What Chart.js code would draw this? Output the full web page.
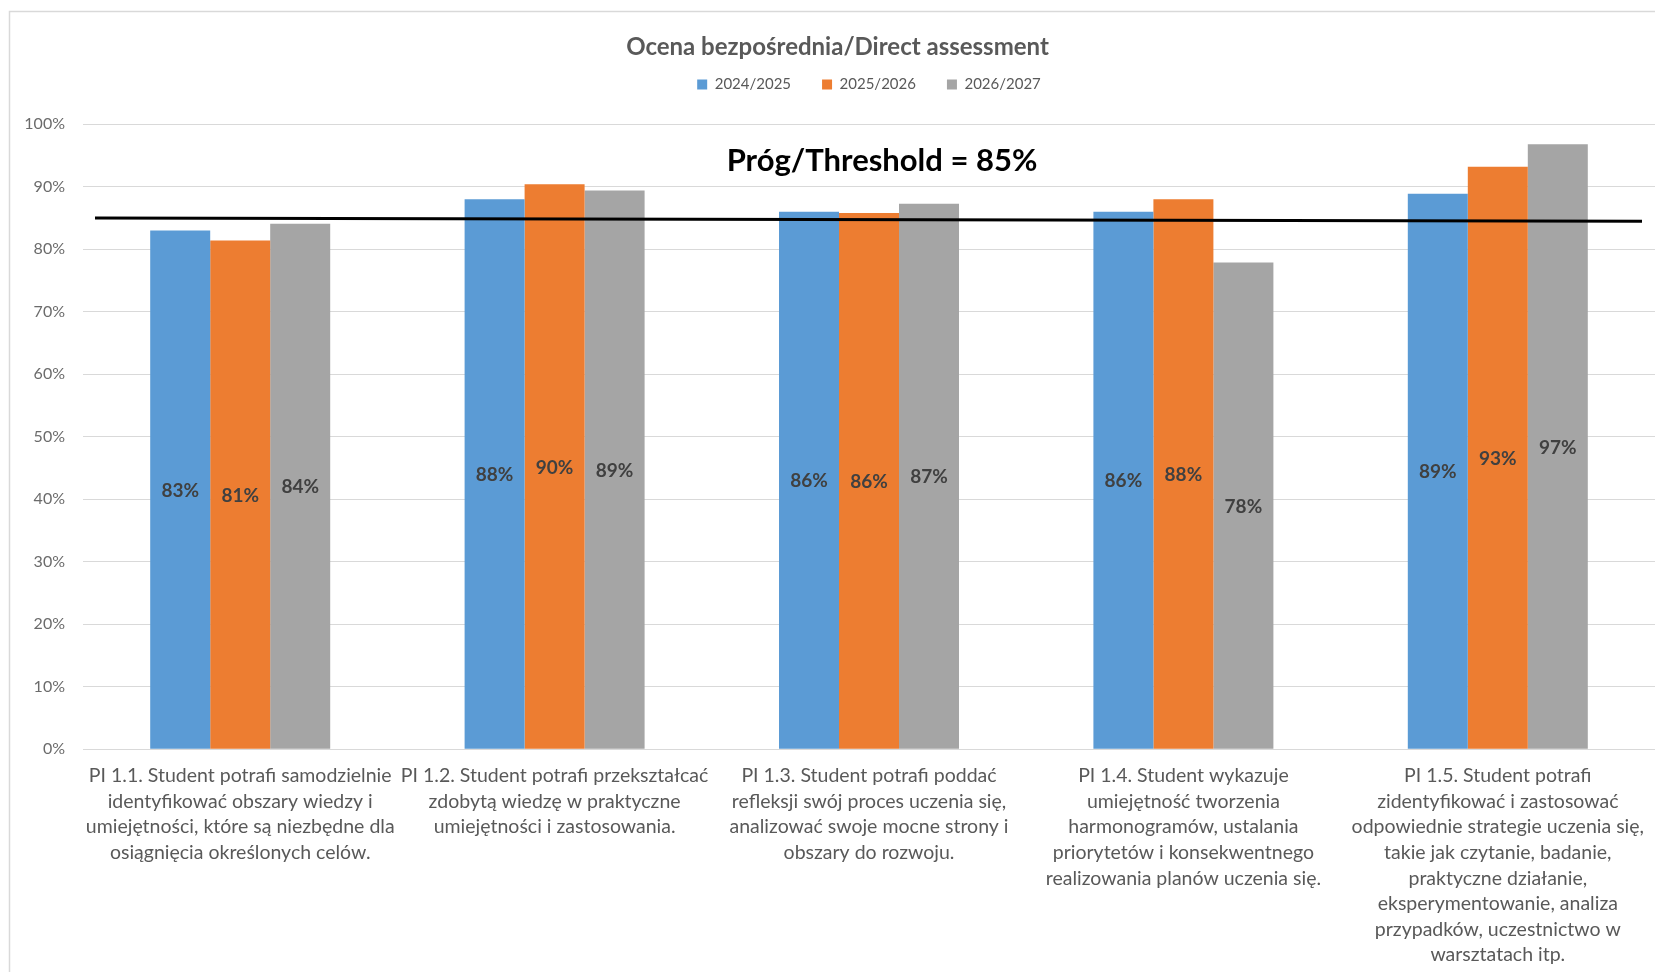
<!DOCTYPE html>
<html>
<head>
<meta charset="utf-8">
<script src="https://cdn.jsdelivr.net/npm/chart.js@4.4.1/dist/chart.umd.min.js"></script>
<style>
html, body { margin: 0; padding: 0; background: #ffffff; }
#wrap { width: 1655px; height: 972px; }
canvas { display: block; }
</style>
</head>
<body>
<div id="wrap"><canvas id="c" width="1655" height="972"></canvas></div>
<script>
const chartTitle = 'Ocena bezpośrednia/Direct assessment';
const categories = [
  ['PI 1.1. Student potrafi samodzielnie', 'identyfikować obszary wiedzy i', 'umiejętności, które są niezbędne dla', 'osiągnięcia określonych celów.'],
  ['PI 1.2. Student potrafi przekształcać', 'zdobytą wiedzę w praktyczne', 'umiejętności i zastosowania.'],
  ['PI 1.3. Student potrafi poddać', 'refleksji swój proces uczenia się,', 'analizować swoje mocne strony i', 'obszary do rozwoju.'],
  ['PI 1.4. Student wykazuje', 'umiejętność tworzenia', 'harmonogramów, ustalania', 'priorytetów i konsekwentnego', 'realizowania planów uczenia się.'],
  ['PI 1.5. Student potrafi', 'zidentyfikować i zastosować', 'odpowiednie strategie uczenia się,', 'takie jak czytanie, badanie,', 'praktyczne działanie,', 'eksperymentowanie, analiza', 'przypadków, uczestnictwo w', 'warsztatach itp.']
];
const seriesNames = ['2024/2025', '2025/2026', '2026/2027'];
const values2024 = [83.0, 88.0, 86.0, 86.0, 88.9];
const values2025 = [81.4, 90.4, 85.8, 88.0, 93.2];
const values2026 = [84.1, 89.4, 87.3, 77.9, 96.8];
const seriesColors = ['#5B9BD5', '#ED7D31', '#A5A5A5'];
const yTickValues = [0, 10, 20, 30, 40, 50, 60, 70, 80, 90, 100];
const thresholdStart = 85;
const thresholdEnd = 84.5;
const thresholdLabel = 'Próg/Threshold = 85%';

const FONT = 'Lato, Carlito, "Open Sans", sans-serif';

const frameAndBg = {
  id: 'frameAndBg',
  beforeDraw(chart) {
    const ctx = chart.ctx;
    ctx.save();
    ctx.fillStyle = '#ffffff';
    ctx.fillRect(0, 0, chart.width, chart.height);
    ctx.strokeStyle = '#d9d9d9';
    ctx.lineWidth = 1.5;
    ctx.strokeRect(9.5, 11.5, chart.width + 20, chart.height + 20);
    ctx.restore();
  }
};

const overlays = {
  id: 'overlays',
  afterDatasetsDraw(chart) {
    const ctx = chart.ctx;
    const area = chart.chartArea;
    const y = chart.scales.y;
    ctx.save();
    // data labels centred in bars
    ctx.font = 'bold 19px ' + FONT;
    ctx.fillStyle = '#404040';
    ctx.textAlign = 'center';
    ctx.textBaseline = 'middle';
    chart.data.datasets.forEach((ds, di) => {
      const meta = chart.getDatasetMeta(di);
      meta.data.forEach((bar, i) => {
        const v = ds.data[i];
        ctx.fillText(Math.round(v) + '%', bar.x, (bar.y + bar.base) / 2 + 1);
      });
    });
    // threshold line
    ctx.strokeStyle = '#000000';
    ctx.lineWidth = 3;
    ctx.beginPath();
    ctx.moveTo(area.left + 12, y.getPixelForValue(thresholdStart));
    ctx.lineTo(area.right - 13, y.getPixelForValue(thresholdEnd));
    ctx.stroke();
    // threshold label
    ctx.font = 'bold 31px ' + FONT;
    ctx.fillStyle = '#000000';
    ctx.fillText(thresholdLabel, (area.left + area.right) / 2 + 13, area.top + 37);
    ctx.restore();
  }
};

new Chart(document.getElementById('c'), {
  type: 'bar',
  data: {
    labels: categories,
    datasets: [
      { label: seriesNames[0], data: values2024, backgroundColor: seriesColors[0] },
      { label: seriesNames[1], data: values2025, backgroundColor: seriesColors[1] },
      { label: seriesNames[2], data: values2026, backgroundColor: seriesColors[2] }
    ]
  },
  options: {
    responsive: false,
    animation: false,
    devicePixelRatio: 1,
    layout: { padding: { left: 20, right: 0, top: 0, bottom: 0 } },
    datasets: {
      bar: { categoryPercentage: 0.5725, barPercentage: 1.0, borderWidth: 0 }
    },
    plugins: {
      title: {
        display: true,
        text: chartTitle,
        color: '#595959',
        font: { family: FONT, size: 24, weight: 'bold', lineHeight: 1.2 },
        padding: { top: 32.6, bottom: -15.4 },
        fullSize: true
      },
      legend: {
        display: true,
        position: 'top',
        fullSize: false,
        labels: {
          boxWidth: 10,
          boxHeight: 10,
          padding: 31,
          color: '#595959',
          font: { family: FONT, size: 15 }
        }
      },
      subtitle: {
        display: true,
        text: ' ',
        weight: 500,
        font: { family: FONT, size: 1, lineHeight: 1 },
        padding: { top: 0, bottom: 21.3 }
      },
      tooltip: { enabled: false }
    },
    scales: {
      x: {
        grid: { display: false, drawTicks: false },
        border: { display: true, color: '#d9d9d9', width: 1 },
        ticks: {
          autoSkip: false,
          maxRotation: 0,
          minRotation: 0,
          padding: 14,
          color: '#595959',
          font: { family: FONT, size: 19.5, lineHeight: 1.31 }
        },
        afterFit(scale) {
          scale.height = 222.7;
          scale.paddingLeft = 0;
          scale.paddingRight = 0;
        }
      },
      y: {
        min: 0,
        max: 100,
        afterBuildTicks(scale) {
          scale.ticks = yTickValues.map(v => ({ value: v }));
        },
        grid: { color: '#d9d9d9', lineWidth: 1, drawTicks: false },
        border: { display: false },
        ticks: {
          padding: 18,
          color: '#6b6b6b',
          font: { family: FONT, size: 16 },
          callback: v => v + '%'
        },
        afterFit(scale) {
          scale.width = 63;
        }
      }
    }
  },
  plugins: [frameAndBg, overlays]
});
</script>
</body>
</html>
